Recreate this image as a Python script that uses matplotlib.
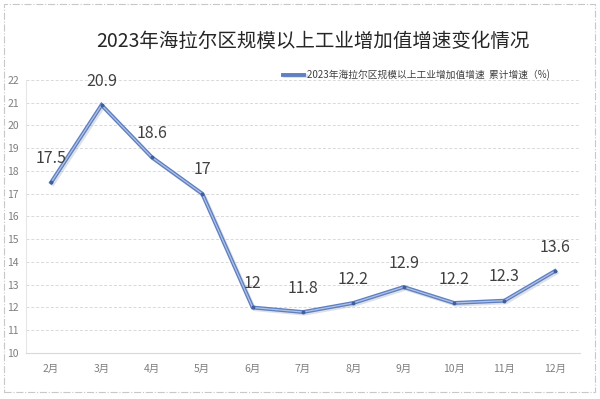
import matplotlib.pyplot as plt
import matplotlib.patheffects as pe
from matplotlib.patches import Rectangle

plt.rcParams['font.family'] = ['Noto Sans CJK SC', 'DejaVu Sans']

months = ["2月", "3月", "4月", "5月", "6月", "7月", "8月", "9月", "10月", "11月", "12月"]
growth = [17.5, 20.9, 18.6, 17, 12, 11.8, 12.2, 12.9, 12.2, 12.3, 13.6]
labels = ["17.5", "20.9", "18.6", "17", "12", "11.8", "12.2", "12.9", "12.2", "12.3", "13.6"]
series_name = "2023年海拉尔区规模以上工业增加值增速  累计增速（%)"
title = "2023年海拉尔区规模以上工业增加值增速变化情况"

fig = plt.figure(figsize=(6, 3.99), dpi=100)
ax = fig.add_axes([0.0433, 0.1153, 0.9234, 0.6842])

x = list(range(len(months)))
line, = ax.plot(x, growth, color="#5e7fc0", lw=2.8, solid_joinstyle="miter",
                label=series_name, zorder=3,
                path_effects=[pe.SimpleLineShadow(offset=(1.2, -1.2), shadow_color="#8a9cc0", alpha=0.3),
                              pe.Normal()])
ax.plot(x, growth, color="#b0c2e6", lw=0.9, zorder=4)
ax.plot(x, growth, "o", color="#3f5f9f", ms=1.8, zorder=5)

for xi, yi, t in zip(x, growth, labels):
    ax.annotate(t, (xi, yi), xytext=(0, 11), textcoords="offset points",
                ha="center", va="bottom", fontsize=11.5, color="#404040")

ax.set_xlim(-0.5, len(months) - 0.5)
ax.set_ylim(10, 22)
ax.set_yticks(range(10, 23))
ax.set_xticks(x)
ax.set_xticklabels(months)
ax.tick_params(axis="both", labelsize=7.5, colors="#7f7f7f", length=0)
ax.tick_params(axis="y", pad=5)
ax.tick_params(axis="x", pad=8)
ax.grid(axis="y", color="#d9d9d9", ls=(0, (3, 2)), lw=0.7)
for s in ["top", "right"]:
    ax.spines[s].set_visible(False)
ax.spines["left"].set_color("#e6e6e6")
ax.spines["bottom"].set_color("#d9d9d9")

leg = ax.legend(handles=[line], loc="lower right", bbox_to_anchor=(0.953, 0.985),
                frameon=False, fontsize=7, handlelength=2.2, handletextpad=0.3,
                borderaxespad=0, labelcolor="#404040")

fig.text(0.522, 0.895, title, ha="center", va="center", fontsize=14, color="#262626")

fig.patches.append(Rectangle((0.006, 0.018), 0.986, 0.972, transform=fig.transFigure,
                             fill=False, ec="#c8c8c8", lw=0.8, ls="-."))

fig.savefig("out.png", dpi=100, facecolor="white")
